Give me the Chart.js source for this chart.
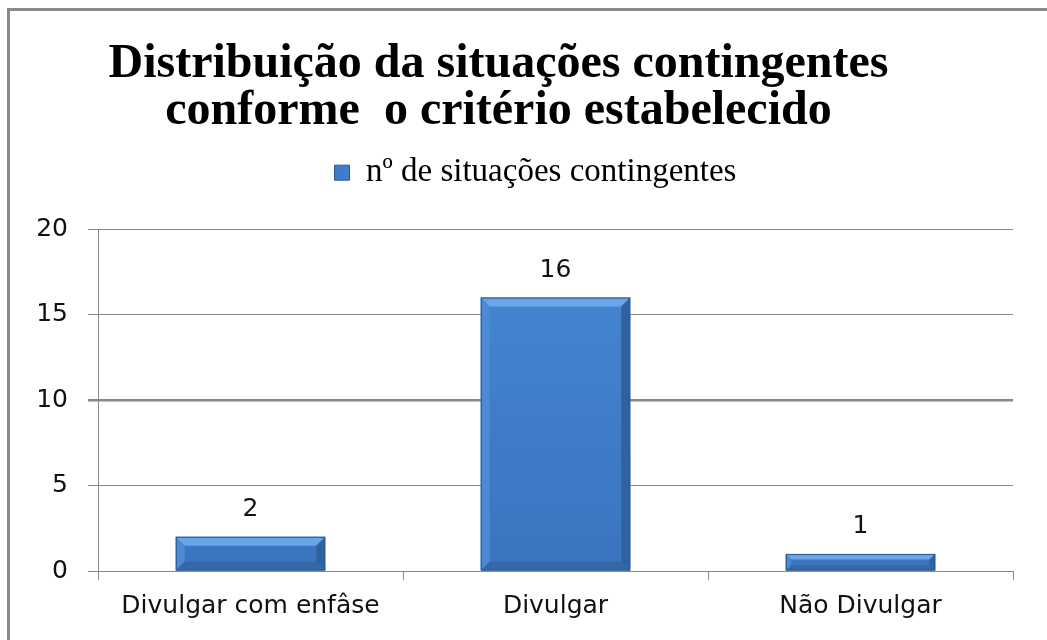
<!DOCTYPE html>
<html>
<head>
<meta charset="utf-8">
<script src="https://cdn.jsdelivr.net/npm/chart.js@4/dist/chart.umd.min.js"></script>
<style>
  html, body { margin: 0; padding: 0; background: #fff; }
  #wrap { position: relative; width: 1047px; height: 640px; overflow: hidden; }
  #frame { position: absolute; left: 7px; top: 8px; width: 1100px; height: 700px;
           border-left: 3px solid #8a8a8a; border-top: 3px solid #8a8a8a; pointer-events: none; }
  canvas { position: absolute; left: 0; top: 0; }
</style>
</head>
<body>
<div id="wrap">
  <canvas id="chart" width="1047" height="640"></canvas>
  <div id="frame"></div>
</div>
<script>
const titleLines = ["Distribuição da situações contingentes", "conforme  o critério estabelecido"];
const seriesName = "nº de situações contingentes";
const categories = ["Divulgar com enfâse", "Divulgar", "Não Divulgar"];
const values = [2, 16, 1];
const yTicks = [0, 5, 10, 15, 20];

const sansFont = "'DejaVu Sans', sans-serif";
const serifFont = "'Liberation Serif', 'DejaVu Serif', serif";

// bevelled bars + value labels on top
const bevelBars = {
  id: "bevelBars",
  afterDatasetsDraw(chart) {
    const ctx = chart.ctx;
    const meta = chart.getDatasetMeta(0);
    meta.data.forEach((bar, i) => {
      const l = bar.x - bar.width / 2, r = bar.x + bar.width / 2;
      const t = bar.y, b = bar.base;
      const h = b - t;
      const bv = Math.min(9, h / 3);
      ctx.save();
      // top bevel
      ctx.fillStyle = "#6aa5e8";
      ctx.beginPath();
      ctx.moveTo(l, t); ctx.lineTo(r, t); ctx.lineTo(r - bv, t + bv); ctx.lineTo(l + bv, t + bv); ctx.closePath(); ctx.fill();
      // left bevel
      ctx.fillStyle = "#4c8ad4";
      ctx.beginPath();
      ctx.moveTo(l, t); ctx.lineTo(l + bv, t + bv); ctx.lineTo(l + bv, b - bv); ctx.lineTo(l, b); ctx.closePath(); ctx.fill();
      // right bevel
      ctx.fillStyle = "#30629f";
      ctx.beginPath();
      ctx.moveTo(r, t); ctx.lineTo(r - bv, t + bv); ctx.lineTo(r - bv, b - bv); ctx.lineTo(r, b); ctx.closePath(); ctx.fill();
      // bottom bevel
      ctx.fillStyle = "#3468a8";
      ctx.beginPath();
      ctx.moveTo(l, b); ctx.lineTo(l + bv, b - bv); ctx.lineTo(r - bv, b - bv); ctx.lineTo(r, b); ctx.closePath(); ctx.fill();
      ctx.strokeStyle = "#2a5791";
      ctx.lineWidth = 1;
      ctx.strokeRect(l + 0.5, t + 0.5, r - l - 1, h - 1);
      // value label
      ctx.fillStyle = "#111";
      ctx.font = "25px " + sansFont;
      ctx.textAlign = "center";
      ctx.textBaseline = "middle";
      ctx.fillText(String(values[i]), bar.x, t - 27);
      ctx.restore();
    });
  }
};

// extra space under the legend, and nudge title / legend sideways
const legendGap = {
  id: "legendGap",
  beforeInit(chart) {
    const fit = chart.legend.fit;
    chart.legend.fit = function () {
      fit.bind(chart.legend)();
      this.height += 30;
    };
  },
  afterLayout(chart) {
    chart.legend.left += 29;
    chart.legend.right += 29;
    chart.titleBlock.left -= 8;
    chart.titleBlock.right -= 8;
  }
};

new Chart(document.getElementById("chart"), {
  type: "bar",
  data: {
    labels: categories,
    datasets: [{
      label: seriesName,
      data: values,
      backgroundColor: (c) => {
        const area = c.chart.chartArea;
        if (!area) return "#3d7bc8";
        const g = c.chart.ctx.createLinearGradient(0, area.top, 0, area.bottom);
        g.addColorStop(0, "#4588d4");
        g.addColorStop(1, "#3a74bf");
        return g;
      },
      borderWidth: 0,
      barPercentage: 0.49,
      categoryPercentage: 1
    }]
  },
  options: {
    responsive: false,
    animation: false,
    layout: { padding: { left: 0, right: 34, top: 0, bottom: 0 } },
    plugins: {
      title: {
        display: true,
        text: titleLines,
        color: "#000",
        font: { family: serifFont, size: 48, weight: "bold", lineHeight: 0.96 },
        padding: { top: 42, bottom: 12 }
      },
      legend: {
        display: true,
        labels: {
          color: "#000",
          font: { family: serifFont, size: 33 },
          boxWidth: 15,
          boxHeight: 15,
          padding: 10,
          generateLabels: (chart) => [{
            text: seriesName,
            fillStyle: "#3f7dca",
            strokeStyle: "#2a5791",
            lineWidth: 1,
            datasetIndex: 0
          }]
        }
      },
      tooltip: { enabled: false }
    },
    scales: {
      x: {
        offset: true,
        grid: { display: true, drawOnChartArea: false, drawTicks: true, tickLength: 9, offset: true, color: "#888" },
        border: { display: true, color: "#888" },
        ticks: { color: "#111", font: { family: sansFont, size: 25 }, padding: 11 },
        afterFit: (s) => { s.height = 69; }
      },
      y: {
        min: 0,
        max: 20,
        afterBuildTicks: (s) => { s.ticks = yTicks.map(v => ({ value: v })); },
        grid: {
          color: "#888",
          lineWidth: (c) => (c.tick && c.tick.value === 10 ? 2.5 : 1),
          tickLength: 10
        },
        border: { display: true, color: "#888" },
        ticks: { color: "#111", font: { family: sansFont, size: 25 }, padding: 20 },
        afterFit: (s) => { s.width = 98; }
      }
    }
  },
  plugins: [bevelBars, legendGap]
});
</script>
</body>
</html>
